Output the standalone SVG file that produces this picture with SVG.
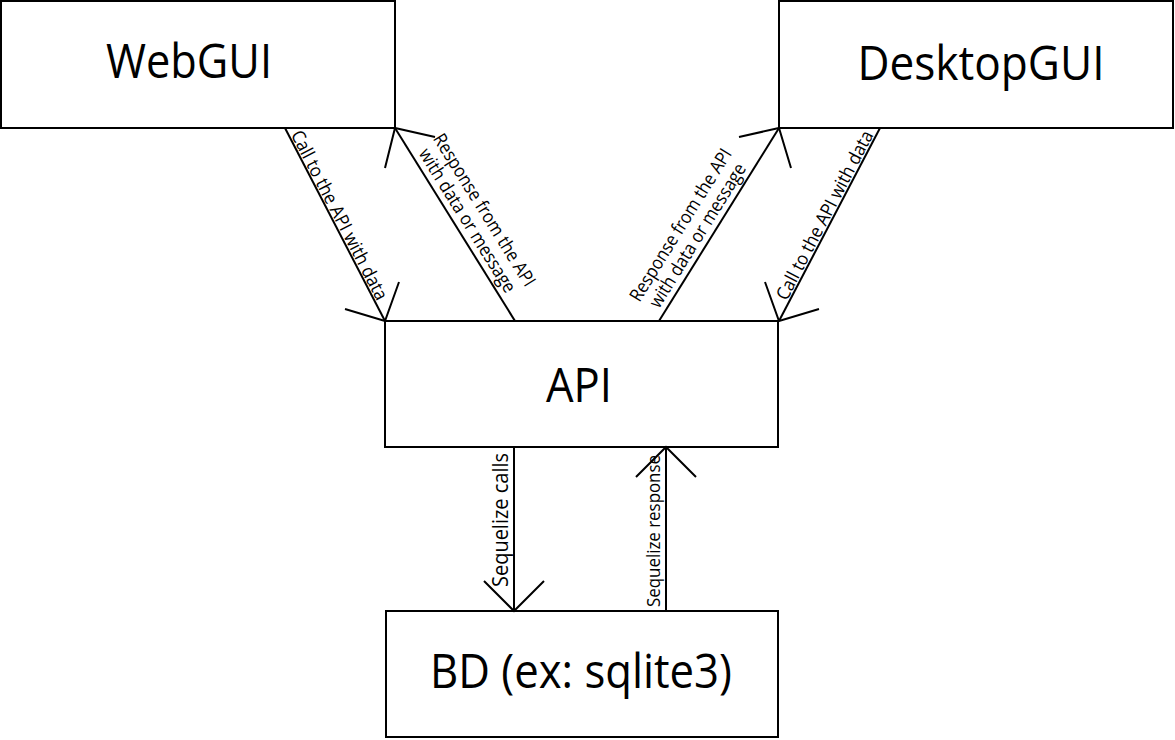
<svg xmlns="http://www.w3.org/2000/svg" width="1175" height="740" viewBox="0 0 1175 740">
<style>
.box{fill:#fff;stroke:#000;stroke-width:2}
.title{font-family:"Open Sans","Liberation Sans",sans-serif;font-size:48px;fill:#000;text-anchor:middle}
.lbl{font-family:"Open Sans","Liberation Sans",sans-serif;font-size:18.5px;fill:#000;text-anchor:middle}
.ln{fill:none;stroke:#000;stroke-width:2}
</style>
<rect width="1175" height="740" fill="#fff"/>
<g id="webgui"><rect class="box" x="1" y="1" width="394" height="127"/><text class="title" x="189" y="78" textLength="166" lengthAdjust="spacingAndGlyphs">WebGUI</text></g>
<g id="desktopgui"><rect class="box" x="779" y="1" width="394" height="127"/><text class="title" x="981" y="80" textLength="247" lengthAdjust="spacingAndGlyphs">DesktopGUI</text></g>
<g id="api"><rect class="box" x="385" y="321" width="393" height="126"/><text class="title" x="579" y="402" textLength="66" lengthAdjust="spacingAndGlyphs">API</text></g>
<g id="bd"><rect class="box" x="386" y="611" width="392" height="126"/><text class="title" x="581" y="688" textLength="302" lengthAdjust="spacingAndGlyphs">BD (ex: sqlite3)</text></g>
<g id="connectors">
<line class="ln" x1="285" y1="128" x2="385" y2="321"/><polyline class="ln" points="345,309 385,321 399,282"/>
<line class="ln" x1="515" y1="321" x2="395" y2="128"/><polyline class="ln" points="435,137 395,128 385,168"/>
<line class="ln" x1="659" y1="321" x2="779" y2="128"/><polyline class="ln" points="739,137 779,128 791,168"/>
<line class="ln" x1="880" y1="128" x2="779" y2="321"/><polyline class="ln" points="765,282 779,321 819,309"/>
<line class="ln" x1="514" y1="447" x2="514" y2="611"/><polyline class="ln" points="484,581 514,611 544,581"/>
<line class="ln" x1="666" y1="611" x2="666" y2="447"/><polyline class="ln" points="636,477 666,447 696,477"/>
<text class="lbl" transform="translate(332,219) rotate(62.6)" x="0" y="-2" textLength="188" lengthAdjust="spacingAndGlyphs">Call to the API with data</text>
<g transform="translate(457,227) rotate(58.1)">
<text class="lbl" x="0" y="-26" textLength="176" lengthAdjust="spacingAndGlyphs">Response from the API</text>
<text class="lbl" x="0" y="-6" textLength="166" lengthAdjust="spacingAndGlyphs">with data or message</text>
</g>
<g transform="translate(708,242) rotate(-58.1)">
<text class="lbl" x="0" y="-26" textLength="176" lengthAdjust="spacingAndGlyphs">Response from the API</text>
<text class="lbl" x="0" y="-6" textLength="166" lengthAdjust="spacingAndGlyphs">with data or message</text>
</g>
<text class="lbl" transform="translate(832,219) rotate(-62.4)" x="0" y="-2" textLength="188" lengthAdjust="spacingAndGlyphs">Call to the API with data</text>
<text class="lbl" style="font-size:21px" transform="translate(508,520) rotate(-90)" x="0" y="0" textLength="134" lengthAdjust="spacingAndGlyphs">Sequelize calls</text>
<text class="lbl" style="font-size:18px" transform="translate(660,531) rotate(-90)" x="0" y="0" textLength="152" lengthAdjust="spacingAndGlyphs">Sequelize response</text>
</g>
</svg>
